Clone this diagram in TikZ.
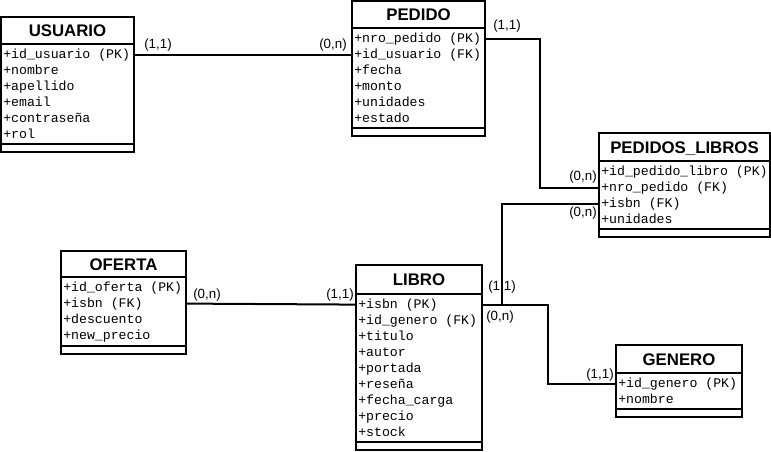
\documentclass[tikz,border=0pt]{standalone}
\usepackage{fontspec}
\setmainfont{Liberation Sans}
\setmonofont{Liberation Mono}
\usetikzlibrary{fit}

\tikzset{
  x=0.75pt, y=-0.75pt,
  entity/.style={draw, line width=1.5pt, inner sep=0pt, fill=white},
  sepline/.style={line width=1.5pt},
  etitle/.style={font=\fontsize{12.6pt}{14pt}\selectfont\bfseries, inner sep=0pt, anchor=base},
  attr/.style={font=\ttfamily\fontsize{9.9pt}{12pt}\selectfont, inner sep=0pt, anchor=base west},
  conn/.style={line width=1.5pt},
  card/.style={font=\fontsize{10pt}{11pt}\selectfont, inner sep=0pt},
}

% entity box: name, left, top, right, bottom, title rule, bottom rule, title, attributes
\newcommand\erentity[9]{%
  \node[entity, fit={(#2,#3) (#4,#5)}] (#1) {};
  \draw[sepline] (#2,#6) -- (#4,#6);
  \draw[sepline] (#2,#7) -- (#4,#7);
  \node[etitle] (#1-title) at ({(#2+#4)/2},{(#3+#6)/2+6}) {#8};
  \foreach \a [count=\i] in {#9}
    \node[attr] (#1-\i) at (#2+2,{#6+14+16*(\i-1)}) {\a};
}

\begin{document}
\begin{tikzpicture}
\useasboundingbox[fill=white] (0,0) rectangle (771,451);

\erentity{usuario}{1}{17}{134}{152}{44}{144}{USUARIO}%
  {+id\_usuario (PK),+nombre,+apellido,+email,+contraseña,+rol}
\erentity{pedido}{352}{1}{485}{136}{28}{128}{PEDIDO}%
  {+nro\_pedido (PK),+id\_usuario (FK),+fecha,+monto,+unidades,+estado}
\erentity{pl}{599}{133}{770}{237}{161}{229}{PEDIDOS\_LIBROS}%
  {+id\_pedido\_libro (PK),+nro\_pedido (FK),+isbn (FK),+unidades}
\erentity{oferta}{61}{251}{186}{354}{277}{346}{OFERTA}%
  {+id\_oferta (PK),+isbn (FK),+descuento,+new\_precio}
\erentity{libro}{356}{265}{482}{450}{294}{442}{LIBRO}%
  {+isbn (PK),+id\_genero (FK),+titulo,+autor,+portada,+reseña,+fecha\_carga,+precio,+stock}
\erentity{genero}{616}{345}{742}{417}{373}{409}{GENERO}%
  {+id\_genero (PK),+nombre}

% routing columns of the elbow connectors
\coordinate (j1) at (540,0);
\coordinate (j2) at (502,0);
\coordinate (j3) at (548,0);

% relationships
\draw[conn] (usuario.east |- usuario-1) -- (pedido.west |- usuario-1);
\draw[conn] (pedido.east |- pedido-1) -- (j1 |- pedido-1) -- (j1 |- pl-2) -- (pl.west |- pl-2);
\draw[conn] (j2 |- libro-1) -- (j2 |- pl-3) -- (pl.west |- pl-3);
\draw[conn] (libro.east |- libro-1) -- (j3 |- libro-1) -- (j3 |- genero-1) -- (genero.west |- genero-1);
\draw[conn] (oferta.east |- oferta-2) -- (libro.west |- libro-1);

% cardinalities
\node[card] (c1) at (158,45) {(1,1)};
\node[card] (c2) at (333,45) {(0,n)};
\node[card] (c3) at (507,26) {(1,1)};
\node[card] (c4) at (583,177) {(0,n)};
\node[card] (c5) at (583,213) {(0,n)};
\node[card] (c6) at (502,287) {(1,1)};
\node[card] (c7) at (500,317) {(0,n)};
\node[card] (c8) at (600,375) {(1,1)};
\node[card] (c9) at (207,295) {(0,n)};
\node[card] (c10) at (340,295) {(1,1)};
\end{tikzpicture}
\end{document}
